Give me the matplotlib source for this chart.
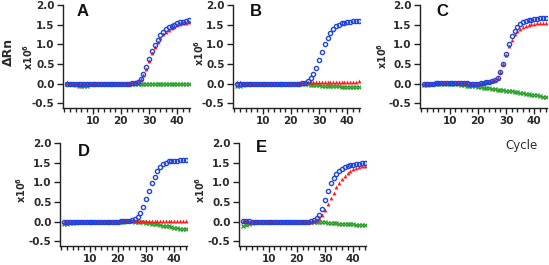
import matplotlib
matplotlib.use("Agg")
import matplotlib.pyplot as plt
from matplotlib.ticker import MultipleLocator

plt.rcParams['font.family'] = ['Liberation Sans', 'DejaVu Sans']

W, H = 549, 265

cycles = list(range(1, 45))

# panel A
a_blue = [0.0, 0.0, 0.0, 0.0, 0.0, 0.0, 0.0, 0.0, 0.0, 0.0, 0.0, 0.0, 0.0, 0.0, 0.0,
          0.0, 0.0, 0.0, 0.0, 0.0, 0.0, 0.0, 0.0, 0.01, 0.02, 0.05, 0.12, 0.25, 0.42,
          0.62, 0.82, 0.98, 1.12, 1.23, 1.31, 1.38, 1.43, 1.47, 1.50, 1.53, 1.56, 1.58,
          1.60, 1.62]
a_red = [0.03, 0.02, 0.0, 0.0, 0.0, 0.0, 0.0, 0.0, 0.0, 0.0, 0.0, 0.0, 0.0, 0.0, 0.0,
         0.0, 0.0, 0.0, 0.0, 0.01, 0.02, 0.02, 0.02, 0.02, 0.03, 0.06, 0.12, 0.22, 0.38,
         0.58, 0.78, 0.94, 1.06, 1.17, 1.25, 1.32, 1.37, 1.41, 1.45, 1.48, 1.51, 1.53,
         1.55, 1.57]
a_green = [-0.01, -0.01, -0.02, -0.03, -0.06, -0.07, -0.06, -0.05, -0.02, 0.0, 0.0, 0.0,
           0.0, 0.0, 0.0, 0.0, 0.0, 0.0, 0.0, 0.0, 0.0, 0.0, 0.0, 0.0, 0.0, 0.0, 0.0,
           0.0, 0.0, 0.0, 0.0, 0.0, 0.0, 0.0, 0.0, 0.0, 0.0, 0.0, 0.0, 0.0, 0.0, 0.0,
           0.0, 0.0]

# panel B
b_blue = [-0.01, -0.01, 0.0, 0.0, 0.0, 0.0, 0.0, 0.0, 0.0, 0.0, 0.0, 0.0, 0.0, 0.0, 0.0,
          0.0, -0.01, 0.0, 0.0, 0.0, 0.0, 0.0, 0.0, 0.01, 0.02, 0.06, 0.14, 0.25, 0.40,
          0.60, 0.80, 1.00, 1.17, 1.30, 1.40, 1.46, 1.50, 1.53, 1.55, 1.57, 1.58, 1.59,
          1.60, 1.60]
b_red = [0.04, 0.03, 0.01, 0.0, 0.0, 0.0, 0.0, 0.0, 0.0, 0.0, 0.0, 0.0, 0.0, 0.0, 0.0,
         0.0, 0.0, 0.0, 0.0, 0.01, 0.01, 0.02, 0.02, 0.02, 0.03, 0.03, 0.03, 0.03, 0.04,
         0.04, 0.04, 0.04, 0.04, 0.04, 0.04, 0.04, 0.04, 0.04, 0.04, 0.04, 0.05, 0.05,
         0.05, 0.06]
b_green = [-0.07, -0.06, -0.03, -0.01, 0.0, 0.0, 0.0, 0.0, 0.0, 0.0, 0.0, 0.0, 0.0, 0.0,
           0.0, 0.0, 0.0, 0.0, 0.0, 0.0, 0.0, -0.01, -0.01, -0.02, -0.02, -0.02, -0.03,
           -0.03, -0.04, -0.04, -0.05, -0.05, -0.05, -0.06, -0.06, -0.07, -0.07, -0.08,
           -0.08, -0.08, -0.09, -0.09, -0.09, -0.09]

# panel C
c_blue = [-0.01, -0.01, 0.0, 0.0, 0.01, 0.02, 0.02, 0.02, 0.02, 0.02, 0.02, 0.02, 0.02,
          0.02, 0.01, 0.01, 0.0, 0.0, 0.0, 0.0, 0.01, 0.02, 0.03, 0.04, 0.06, 0.09, 0.15,
          0.30, 0.50, 0.75, 1.00, 1.20, 1.35, 1.45, 1.52, 1.56, 1.59, 1.61, 1.63, 1.64,
          1.65, 1.66, 1.67, 1.68]
c_red = [-0.01, -0.01, 0.0, 0.0, 0.01, 0.02, 0.02, 0.02, 0.02, 0.02, 0.02, 0.02, 0.02,
         0.02, 0.01, 0.01, 0.0, 0.0, 0.0, 0.0, 0.01, 0.02, 0.03, 0.04, 0.06, 0.09, 0.15,
         0.30, 0.50, 0.74, 0.95, 1.12, 1.25, 1.33, 1.40, 1.44, 1.47, 1.49, 1.51, 1.52,
         1.53, 1.54, 1.55, 1.55]
c_green = [-0.03, -0.03, -0.02, -0.02, -0.01, -0.01, 0.0, 0.0, 0.0, -0.01, -0.01, -0.02,
           -0.02, -0.03, -0.04, -0.05, -0.05, -0.06, -0.07, -0.08, -0.09, -0.10, -0.11,
           -0.12, -0.13, -0.14, -0.15, -0.16, -0.17, -0.18, -0.19, -0.20, -0.21, -0.22,
           -0.23, -0.24, -0.26, -0.27, -0.28, -0.29, -0.30, -0.31, -0.33, -0.34]

# panel D
d_blue = [-0.02, -0.02, -0.02, -0.01, 0.0, 0.0, 0.0, 0.0, 0.0, 0.0, 0.0, 0.0, 0.0, 0.0,
          0.0, 0.0, 0.0, 0.0, 0.0, 0.0, 0.01, 0.01, 0.01, 0.02, 0.04, 0.07, 0.13, 0.22,
          0.38, 0.58, 0.77, 0.97, 1.14, 1.28, 1.39, 1.46, 1.50, 1.53, 1.54, 1.55, 1.55,
          1.56, 1.56, 1.56]
d_red = [-0.01, -0.01, 0.0, 0.0, 0.0, 0.0, 0.0, 0.0, 0.0, 0.0, 0.0, 0.0, 0.0, 0.0, 0.0,
         0.0, 0.0, 0.0, 0.0, 0.0, 0.01, 0.01, 0.01, 0.02, 0.02, 0.02, 0.02, 0.02, 0.02,
         0.02, 0.02, 0.02, 0.02, 0.02, 0.02, 0.02, 0.02, 0.02, 0.02, 0.02, 0.02, 0.02,
         0.02, 0.02]
d_green = [-0.05, -0.05, -0.04, -0.03, -0.02, -0.01, 0.0, 0.0, 0.0, 0.0, 0.0, 0.0, 0.0,
           0.0, 0.0, 0.0, 0.0, 0.0, 0.0, 0.0, 0.0, 0.0, 0.01, 0.01, 0.01, 0.0, -0.01,
           -0.02, -0.02, -0.03, -0.04, -0.05, -0.06, -0.07, -0.08, -0.10, -0.11, -0.12,
           -0.14, -0.15, -0.16, -0.18, -0.19, -0.20]

# panel E
e_blue = [0.02, 0.02, 0.01, 0.0, 0.0, 0.0, 0.0, 0.0, 0.0, 0.0, 0.0, 0.0, 0.0, 0.0, 0.0,
          0.0, 0.0, 0.0, 0.0, 0.0, 0.0, 0.0, 0.0, 0.0, 0.01, 0.03, 0.08, 0.17, 0.33,
          0.55, 0.77, 0.97, 1.12, 1.22, 1.30, 1.35, 1.39, 1.42, 1.44, 1.45, 1.46, 1.47,
          1.48, 1.48]
e_red = [0.01, 0.01, 0.0, 0.0, 0.0, 0.0, 0.0, 0.0, 0.0, 0.0, 0.0, 0.0, 0.0, 0.0, 0.0,
         0.0, 0.0, 0.0, 0.0, 0.0, 0.0, 0.0, 0.0, 0.0, 0.0, 0.01, 0.03, 0.08, 0.18, 0.30,
         0.45, 0.60, 0.74, 0.87, 0.98, 1.08, 1.16, 1.23, 1.29, 1.33, 1.36, 1.39, 1.41,
         1.42]
e_green = [-0.10, -0.08, -0.05, -0.03, -0.01, 0.0, 0.0, 0.0, 0.0, 0.0, 0.0, 0.0, 0.0,
           0.0, 0.0, 0.0, 0.0, 0.0, 0.0, 0.0, 0.0, 0.0, 0.0, 0.0, 0.0, 0.0, -0.01, -0.01,
           -0.02, -0.02, -0.03, -0.03, -0.04, -0.04, -0.05, -0.05, -0.06, -0.06, -0.07,
           -0.07, -0.08, -0.08, -0.09, -0.09]

panels = [
    ("A", a_blue, a_red, a_green),
    ("B", b_blue, b_red, b_green),
    ("C", c_blue, c_red, c_green),
    ("D", d_blue, d_red, d_green),
    ("E", e_blue, e_red, e_green),
]

# axes boxes in pixels: left, top, width, height
boxes = [(63, 5, 127, 103), (233, 5, 127, 103), (420, 5, 127, 103),
         (60, 143, 127, 103), (239, 143, 127, 103)]
letter_pos = [(83, 12), (256, 11), (442, 11), (84, 151), (261, 148)]
exp_pos = [(28, 57), (199, 53), (382, 56), (21, 190), (200, 190)]

BLUE = "#1f45e0"
RED = "#ff1a1a"
GREEN = "#22a022"
TXT = "#2a2a2a"
TICKFONT = "DejaVu Sans"

fig = plt.figure(figsize=(W / 100, H / 100), dpi=100)


def fx(px):
    return px / W


def fy(py):
    return 1 - py / H


for (name, blue, red, green), box, lp, ep in zip(panels, boxes, letter_pos, exp_pos):
    left, top, w, h = box
    ax = fig.add_axes([fx(left), fy(top + h), w / W, h / H])
    ax.plot(cycles, green, ls="none", marker="x", ms=2.6, mew=0.9, color=GREEN)
    ax.plot(cycles, red, ls="none", marker="^", ms=2.8, mew=0, color=RED)
    ax.plot(cycles, blue, ls="none", marker="o", ms=3.0, mew=1.0,
            mfc="none", mec=BLUE)
    ax.set_xlim(-0.5, 44.5)
    ax.set_ylim(-0.62, 2.0)
    for s in ("top", "right"):
        ax.spines[s].set_visible(False)
    for s in ("left", "bottom"):
        ax.spines[s].set_linewidth(1.0)
        ax.spines[s].set_color("#222222")
    ax.yaxis.set_major_locator(MultipleLocator(0.5))
    ax.xaxis.set_major_locator(MultipleLocator(10))
    ax.xaxis.set_minor_locator(MultipleLocator(2))
    ax.yaxis.set_major_formatter(plt.FuncFormatter(lambda v, p: f"{v:.1f}"))
    ax.tick_params(axis="both", which="major", length=4, width=1.0,
                   labelsize=7.5, colors="#222222", labelcolor=TXT, pad=2)
    ax.tick_params(axis="x", which="minor", length=3, width=1.0, color="#222222")
    ax.set_xticks([10, 20, 30, 40])
    for lab in ax.get_xticklabels() + ax.get_yticklabels():
        lab.set_fontweight("bold")
        lab.set_fontfamily(TICKFONT)
    fig.text(fx(lp[0]), fy(lp[1]), name, fontsize=12, fontweight="bold",
             ha="center", va="center", color="#111111")
    fig.text(fx(ep[0]), fy(ep[1]), r"x10$^{\mathbf{6}}$", fontsize=7, rotation=90,
             ha="center", va="center", color=TXT, fontweight="bold",
             family=TICKFONT)

fig.text(fx(8), fy(52), "\u0394Rn", fontsize=9, rotation=90, ha="center",
         va="center", color=TXT, fontweight="bold", family=TICKFONT)
fig.text(fx(522), fy(146), "Cycle", fontsize=8.5, ha="center", va="center",
         color=TXT, family=TICKFONT)

fig.savefig("out.png", dpi=100)
